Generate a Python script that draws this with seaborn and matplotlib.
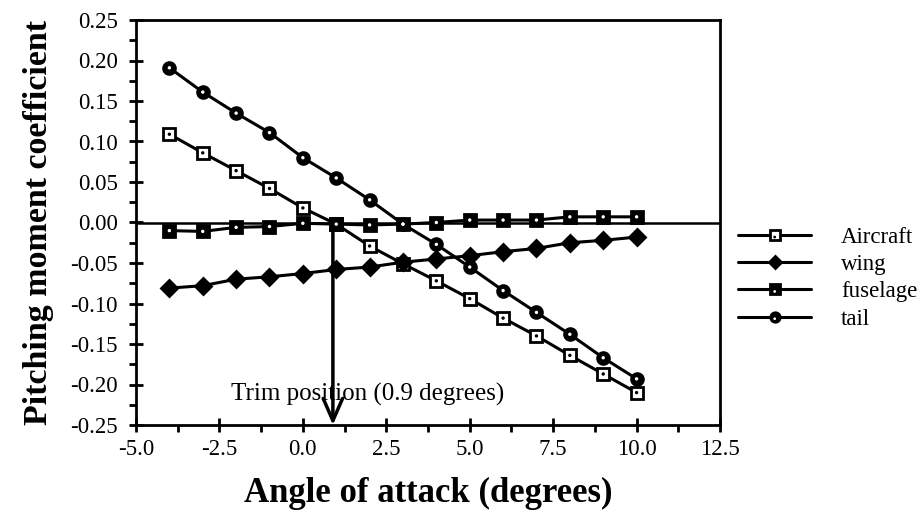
import matplotlib
matplotlib.use("Agg")
import matplotlib.pyplot as plt
import seaborn as sns
from matplotlib.ticker import MultipleLocator, FormatStrFormatter
from matplotlib.legend_handler import HandlerTuple

# values
angle = [-4, -3, -2, -1, 0, 1, 2, 3, 4, 5, 6, 7, 8, 9, 10]
aircraft = [0.109, 0.086, 0.064, 0.042, 0.018, -0.002, -0.029, -0.051,
            -0.072, -0.094, -0.118, -0.140, -0.164, -0.187, -0.210]
wing = [-0.081, -0.078, -0.070, -0.067, -0.063, -0.058, -0.055, -0.049,
        -0.045, -0.041, -0.036, -0.032, -0.025, -0.022, -0.018]
fuselage = [-0.010, -0.011, -0.006, -0.005, -0.001, -0.002, -0.003, -0.002,
            0.000, 0.003, 0.003, 0.003, 0.007, 0.007, 0.007]
tail = [0.191, 0.161, 0.135, 0.111, 0.080, 0.055, 0.028, -0.002,
        -0.027, -0.055, -0.084, -0.111, -0.138, -0.167, -0.193]
labels = ["Aircraft", "wing", "fuselage", "tail"]
trim_angle = 0.9

sns.set_style("ticks")
plt.rcParams["font.family"] = ["Liberation Serif", "DejaVu Serif"]
plt.rcParams["axes.unicode_minus"] = False
for key in ["text.color", "axes.labelcolor", "xtick.color", "ytick.color",
            "axes.edgecolor"]:
    plt.rcParams[key] = "black"

fig = plt.figure(figsize=(9.23, 5.22), dpi=100)
ax = fig.add_axes([136 / 923, 1 - 425 / 522, (720 - 136) / 923, (425 - 20) / 522])

ax.axhline(0, color="k", lw=1.8, zorder=1)

# marker, face colour, marker size, centre dot colour
styles = {
    "Aircraft": ("s", "white", 9, "k"),
    "wing": ("D", "k", 8, None),
    "fuselage": ("s", "k", 9, "white"),
    "tail": ("o", "k", 8.5, "white"),
}
series = {"Aircraft": aircraft, "wing": wing, "fuselage": fuselage, "tail": tail}

handles = []
for name in labels:
    marker, face, size, dot = styles[name]
    sns.lineplot(x=angle, y=series[name], ax=ax, color="k", lw=2.2,
                 marker=marker, markersize=size, markerfacecolor=face,
                 markeredgecolor="k", markeredgewidth=2, zorder=3)
    line = ax.lines[-1]
    if dot is not None:
        dots = sns.scatterplot(x=angle, y=series[name], ax=ax, s=6, color=dot,
                               edgecolor="none", zorder=4, legend=False)
        handles.append((line, dots.collections[-1]))
    else:
        handles.append(line)

ax.annotate("", xy=(trim_angle, -0.25), xytext=(trim_angle, 0),
            arrowprops=dict(arrowstyle="->,head_length=0.8,head_width=0.35",
                            lw=2.5, color="k", mutation_scale=20,
                            shrinkA=0, shrinkB=0), zorder=2)
ax.text(-2.15, -0.212, "Trim position (0.9 degrees)", fontsize=18,
        va="center", ha="left")

ax.set_xlim(-5, 12.5)
ax.set_ylim(-0.25, 0.25)
ax.xaxis.set_major_locator(MultipleLocator(2.5))
ax.xaxis.set_minor_locator(MultipleLocator(1.25))
ax.yaxis.set_major_locator(MultipleLocator(0.05))
ax.yaxis.set_minor_locator(MultipleLocator(0.025))
ax.xaxis.set_major_formatter(FormatStrFormatter("%.1f"))
ax.yaxis.set_major_formatter(FormatStrFormatter("%.2f"))
ax.tick_params(which="major", direction="inout", length=10, width=2,
               labelsize=16.5, colors="k")
ax.tick_params(axis="y", which="major", pad=8)
ax.tick_params(axis="x", which="major", pad=5)
ax.tick_params(which="minor", direction="out", length=5, width=2)
for sp in ax.spines.values():
    sp.set_linewidth(2)

ax.set_xlabel("Angle of attack (degrees)", fontsize=25, fontweight="bold",
              labelpad=12)
ax.set_ylabel("Pitching moment coefficient", fontsize=24.5, fontweight="bold",
              labelpad=12)

fig.legend(handles, labels, loc="upper left",
           bbox_to_anchor=(738 / 923, 1 - 227 / 522), borderaxespad=0,
           borderpad=0, frameon=False, fontsize=16.5, handlelength=3.2,
           handletextpad=1.3, labelspacing=0.27, markerscale=0.8,
           handler_map={tuple: HandlerTuple(ndivide=1)})

fig.savefig("out.png", dpi=100)
